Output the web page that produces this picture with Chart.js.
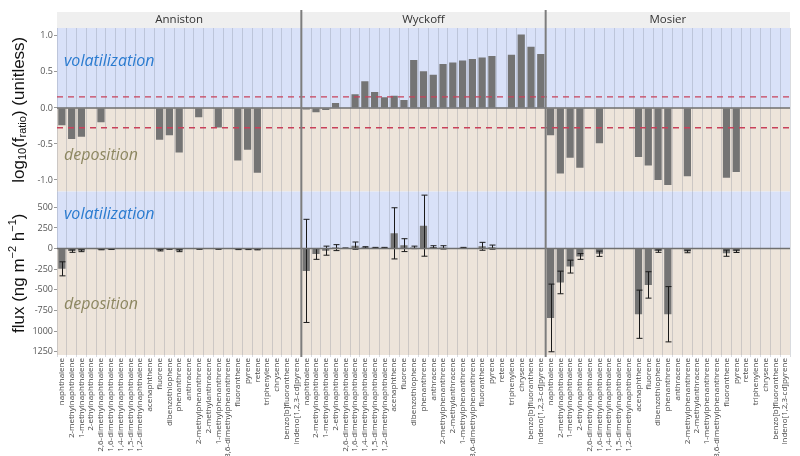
<!DOCTYPE html>
<html lang="en">
<head>
  <meta charset="UTF-8">
  <title>PAH flux by site</title>
  <script src="https://cdn.jsdelivr.net/npm/chart.js"></script>
  <style>
    body { margin: 0; background: #fff; }
    #wrap { width: 800px; height: 456px; }
  </style>
</head>
<body>
<div id="wrap"><canvas id="fluxChart" width="800" height="456"></canvas></div>
<script>
  // compounds shown in every site panel
  const compounds = [
    "naphthalene", "2-methylnaphthalene", "1-methylnaphthalene", "2-ethylnaphthalene",
    "2,6-dimethylnaphthalene", "1,6-dimethylnaphthalene", "1,4-dimethylnaphthalene",
    "1,5-dimethylnaphthalene", "1,2-dimethylnaphthalene", "acenaphthene", "fluorene",
    "dibenzothiophene", "phenanthrene", "anthracene", "2-methylphenanthrene",
    "2-methylanthracene", "1-methylphenanthrene", "3,6-dimethylphenanthrene",
    "fluoranthene", "pyrene", "retene", "triphenylene", "chrysene",
    "benzo[b]fluoranthene", "indeno[1,2,3-cd]pyrene"
  ];
  const sites = ["Anniston", "Wyckoff", "Mosier"];

  // log10(f_ratio)
  const logAnniston = [-0.24, -0.43, -0.40, null, -0.20, null, null, null, null, null, -0.44, -0.38, -0.62, null, -0.13, null, -0.27, null, -0.73, -0.58, -0.90, null, null, null, null];
  const logWyckoff  = [-0.02, -0.06, -0.03, 0.07, null, 0.19, 0.37, 0.22, 0.15, 0.17, 0.11, 0.665, 0.51, 0.46, 0.61, 0.63, 0.66, 0.68, 0.70, 0.72, null, 0.74, 1.02, 0.85, 0.75];
  const logMosier   = [-0.38, -0.91, -0.69, -0.83, null, -0.49, null, null, null, -0.68, -0.80, -1.00, -1.07, null, -0.95, null, null, null, -0.97, -0.89, null, null, null, null, null];

  // flux (ng m-2 h-1) and error half-widths
  const fluxAnniston = [-245, -30, -25, null, -10, -8, null, null, null, null, -20, -5, -25, null, -5, null, -5, null, -8, -8, -10, null, null, null, null];
  const errAnniston  = [85, 15, 12, null, 4, 3, null, null, null, null, 8, 3, 12, null, 3, null, 3, null, 4, 4, 5, null, null, null, null];
  const fluxWyckoff  = [-270, -65, -25, 12, 5, 36, 15, 10, 10, 185, 42, 15, 278, 20, 15, 3, 10, null, 28, 18, null, 2, 2, 2, 2];
  const errWyckoff   = [625, 65, 55, 36, 3, 44, 8, 5, 5, 310, 78, 15, 370, 15, 20, 0, 5, null, 48, 25, null, 0, 0, 0, 0];
  const fluxMosier   = [-840, -410, -218, -95, null, -62, null, null, null, -795, -440, -30, -795, null, -35, null, null, null, -55, -32, null, null, null, null, null];
  const errMosier    = [410, 137, 78, 35, null, 32, null, null, null, 292, 160, 15, 335, null, 15, null, null, null, 38, 15, null, null, null, null, null];

  const logTicks = [1.0, 0.5, 0.0, -0.5, -1.0];
  const fluxTicks = [500, 250, 0, -250, -500, -750, -1000, -1250];
  const thresholds = [0.155, -0.275];

  const labels = [].concat(compounds, compounds, compounds);
  const logData = [].concat(logAnniston, logWyckoff, logMosier);
  const fluxData = [].concat(fluxAnniston, fluxWyckoff, fluxMosier);
  const fluxErr = [].concat(errAnniston, errWyckoff, errMosier);

  const BLUE = "#d9e1f8", TAN = "#ede4da";

  const panelPlugin = {
    id: "panels",
    beforeDraw(chart) {
      const { ctx, chartArea: a, scales } = chart;
      ctx.save();
      for (const id of ["yLog", "yFlux"]) {
        const s = scales[id];
        const z = s.getPixelForValue(0);
        ctx.fillStyle = BLUE;
        ctx.fillRect(a.left, s.top, a.right - a.left, z - s.top);
        ctx.fillStyle = TAN;
        ctx.fillRect(a.left, z, a.right - a.left, s.bottom - z);
      }
      ctx.restore();
    },
    afterDatasetsDraw(chart) {
      const { ctx, chartArea: a, scales } = chart;
      const x = scales.x, yL = scales.yLog, yF = scales.yFlux;
      ctx.save();

      // error bars
      const meta = chart.getDatasetMeta(1);
      ctx.strokeStyle = "#1a1a1a";
      ctx.lineWidth = 1;
      meta.data.forEach((bar, i) => {
        const v = fluxData[i], e = fluxErr[i];
        if (v == null || !e) return;
        const t = yF.getPixelForValue(v + e), b = yF.getPixelForValue(v - e);
        const cx = Math.round(bar.x) + 0.5;
        ctx.beginPath();
        ctx.moveTo(cx, t); ctx.lineTo(cx, b);
        ctx.moveTo(cx - 3, t); ctx.lineTo(cx + 3, t);
        ctx.moveTo(cx - 3, b); ctx.lineTo(cx + 3, b);
        ctx.stroke();
      });

      // zero lines
      ctx.strokeStyle = "#6f6f6f";
      ctx.lineWidth = 1.5;
      for (const s of [yL, yF]) {
        const z = s.getPixelForValue(0);
        ctx.beginPath(); ctx.moveTo(a.left, z); ctx.lineTo(a.right, z); ctx.stroke();
      }

      // threshold lines
      ctx.strokeStyle = "#c8415a";
      ctx.lineWidth = 1.3;
      ctx.setLineDash([6, 5]);
      for (const t of thresholds) {
        const py = yL.getPixelForValue(t);
        ctx.beginPath(); ctx.moveTo(a.left, py); ctx.lineTo(a.right, py); ctx.stroke();
      }
      ctx.setLineDash([]);

      // strip headers
      const n = compounds.length;
      const edges = [a.left];
      for (let p = 1; p < sites.length; p++) {
        edges.push((x.getPixelForValue(p * n - 1) + x.getPixelForValue(p * n)) / 2);
      }
      edges.push(a.right);
      ctx.fillStyle = "#efefef";
      ctx.fillRect(a.left, 12, a.right - a.left, a.top - 12);
      ctx.fillStyle = "#333";
      ctx.font = "11.5px 'Open Sans'";
      ctx.textAlign = "center";
      ctx.textBaseline = "middle";
      sites.forEach((s, i) => ctx.fillText(s, (edges[i] + edges[i + 1]) / 2, 20));

      // panel separators
      ctx.strokeStyle = "#7d7d7d";
      ctx.lineWidth = 2;
      for (let p = 1; p < sites.length; p++) {
        ctx.beginPath(); ctx.moveTo(edges[p], 10); ctx.lineTo(edges[p], a.bottom + 2); ctx.stroke();
      }

      // region words
      ctx.textAlign = "left";
      ctx.font = "italic 16px 'Open Sans'";
      const tx = a.left + 7;
      ctx.fillStyle = "#2a7bd0";
      ctx.fillText("volatilization", tx, yL.getPixelForValue(0.65));
      ctx.fillText("volatilization", tx, yF.getPixelForValue(414));
      ctx.fillStyle = "#8d8761";
      ctx.fillText("deposition", tx, yL.getPixelForValue(-0.66));
      ctx.fillText("deposition", tx, yF.getPixelForValue(-673));

      // axis titles with sub/superscripts
      const title = (parts, cy) => {
        ctx.save();
        ctx.translate(19, cy);
        ctx.rotate(-Math.PI / 2);
        ctx.fillStyle = "#111";
        ctx.textBaseline = "middle";
        let w = 0;
        for (const p of parts) { ctx.font = p.small ? "11px 'Liberation Sans'" : "17px 'Liberation Sans'"; w += ctx.measureText(p.t).width; }
        let px = -w / 2;
        for (const p of parts) {
          ctx.font = p.small ? "11px 'Liberation Sans'" : "17px 'Liberation Sans'";
          ctx.fillText(p.t, px, p.small ? p.small : 0);
          px += ctx.measureText(p.t).width;
        }
        ctx.restore();
      };
      title([{ t: "log" }, { t: "10", small: 4 }, { t: "(f" }, { t: "ratio", small: 4 }, { t: ") (unitless)" }], (yL.top + yL.bottom) / 2);
      title([{ t: "flux (ng m" }, { t: "\u22122", small: -6 }, { t: " h" }, { t: "\u22121", small: -6 }, { t: ")" }], (yF.top + yF.bottom) / 2);

      ctx.restore();
    }
  };

  new Chart(document.getElementById("fluxChart"), {
    type: "bar",
    data: {
      labels: labels,
      datasets: [
        { label: "log10(f_ratio)", data: logData, yAxisID: "yLog", backgroundColor: "#747474", barPercentage: 0.74, categoryPercentage: 1, grouped: false },
        { label: "flux", data: fluxData, yAxisID: "yFlux", backgroundColor: "#747474", barPercentage: 0.74, categoryPercentage: 1, grouped: false }
      ]
    },
    options: {
      responsive: false,
      animation: false,
      layout: { padding: { top: 28, right: 10, left: 0, bottom: 0 } },
      plugins: { legend: { display: false }, tooltip: { enabled: false } },
      scales: {
        x: {
          grid: { color: "rgba(120,125,140,0.28)", tickLength: 2 },
          border: { display: false },
          ticks: { autoSkip: false, minRotation: 90, maxRotation: 90, padding: 1, color: "#444", font: { size: 8, family: "'Open Sans'" } },
          afterFit: s => { s.height = 101; }
        },
        yLog: {
          type: "linear", position: "left", stack: "rows", stackWeight: 1, weight: 1,
          min: -1.16, max: 1.11,
          afterBuildTicks: s => { s.ticks = logTicks.map(v => ({ value: v })); },
          grid: { drawOnChartArea: false, tickLength: 3, color: "#999" },
          border: { display: false },
          ticks: { color: "#555", font: { size: 9, family: "'Open Sans'" }, padding: 1, callback: v => v.toFixed(1) },
          afterFit: s => { s.width = 57; }
        },
        yFlux: {
          type: "linear", position: "left", stack: "rows", stackWeight: 1, weight: 0,
          min: -1289, max: 692,
          afterBuildTicks: s => { s.ticks = fluxTicks.map(v => ({ value: v })); },
          grid: { drawOnChartArea: false, tickLength: 3, color: "#999" },
          border: { display: false },
          ticks: { color: "#555", font: { size: 9, family: "'Open Sans'" }, padding: 1, callback: v => (v <= -1000 ? String(-v) : String(v)) },
          afterFit: s => { s.width = 57; }
        }
      }
    },
    plugins: [panelPlugin]
  });
</script>
</body>
</html>
